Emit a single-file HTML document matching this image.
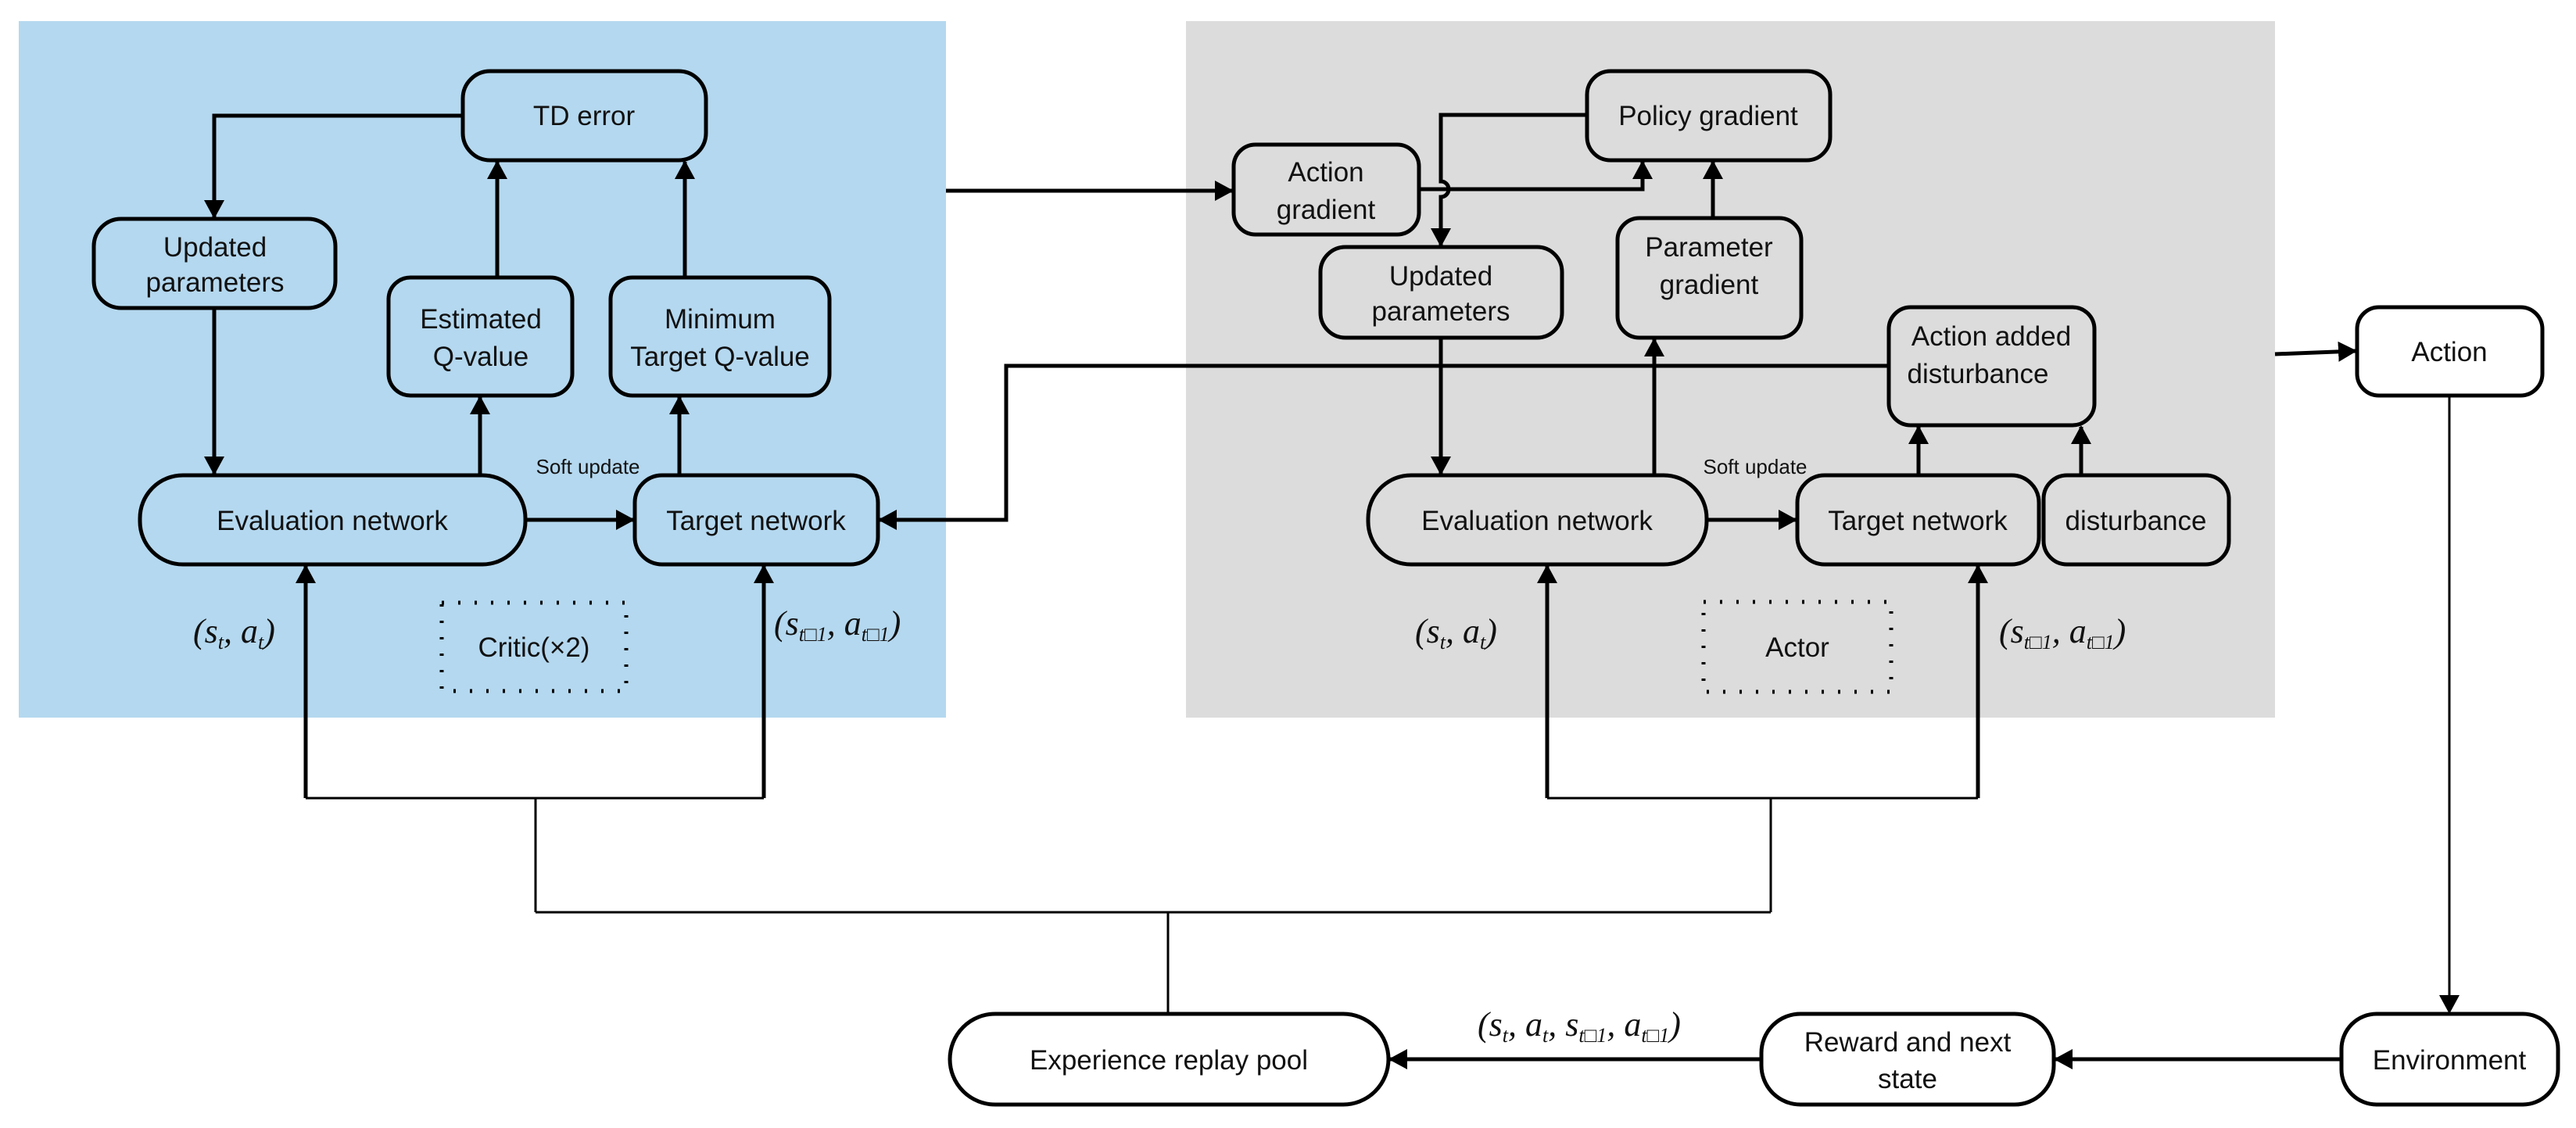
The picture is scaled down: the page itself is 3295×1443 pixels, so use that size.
<!DOCTYPE html>
<html><head><meta charset="utf-8"><style>
html,body{margin:0;padding:0;background:#fff;}
svg{display:block;}
text{font-family:"Liberation Sans",sans-serif;font-size:35px;fill:#111;text-anchor:middle;}
.m{font-family:"Liberation Serif",serif;font-style:italic;font-size:44px;text-anchor:start;}
.s{font-size:26px;}
</style></head><body>
<svg width="3295" height="1443" viewBox="0 0 3295 1443" xmlns="http://www.w3.org/2000/svg">
<defs>
<marker id="a" markerWidth="24" markerHeight="26" refX="22" refY="13" orient="auto" markerUnits="userSpaceOnUse">
<path d="M0,0 L24,13 L0,26 Z" fill="#000"/></marker>
</defs>
<rect x="24" y="27" width="1186" height="891" fill="#b4d8ef"/>
<rect x="1517" y="27" width="1393" height="891" fill="#dcdcdc"/>
<g fill="none" stroke="#000" stroke-width="5">
<!-- critic boxes -->
<rect x="592" y="91" width="311" height="114" rx="35"/>
<rect x="120" y="280" width="309" height="114" rx="35"/>
<rect x="497" y="355" width="235" height="151" rx="28"/>
<rect x="781" y="355" width="280" height="151" rx="28"/>
<rect x="179" y="608" width="493" height="114" rx="55"/>
<rect x="812" y="608" width="311" height="114" rx="35"/>
<rect x="565" y="771" width="236" height="113" stroke-dasharray="3 18" stroke-width="5"/>
<!-- actor boxes -->
<rect x="2030" y="91" width="311" height="114" rx="30"/>
<rect x="1578" y="185" width="237" height="115" rx="28"/>
<rect x="1689" y="316" width="309" height="116" rx="32"/>
<rect x="2069" y="279" width="235" height="153" rx="28"/>
<rect x="2416" y="393" width="263" height="151" rx="28"/>
<rect x="1750" y="608" width="433" height="114" rx="55"/>
<rect x="2299" y="608" width="309" height="114" rx="35"/>
<rect x="2614" y="608" width="237" height="114" rx="30"/>
<rect x="2179" y="770" width="240" height="115" stroke-dasharray="3 18"/>
<rect x="3015" y="393" width="237" height="113" rx="28" fill="#fff"/>
<!-- bottom boxes -->
<rect x="1215" y="1297" width="561" height="116" rx="58" fill="#fff"/>
<rect x="2253" y="1297" width="374" height="116" rx="50" fill="#fff"/>
<rect x="2995" y="1297" width="277" height="116" rx="45" fill="#fff"/>
<!-- critic connectors -->
<path d="M592,148 H274 V278" marker-end="url(#a)"/>
<path d="M274,394 V606" marker-end="url(#a)"/>
<path d="M614,608 V508" marker-end="url(#a)"/>
<path d="M636,355 V207" marker-end="url(#a)"/>
<path d="M869,608 V508" marker-end="url(#a)"/>
<path d="M876,355 V207" marker-end="url(#a)"/>
<path d="M672,665 H810" marker-end="url(#a)"/>
<path d="M391,1021 V724" marker-end="url(#a)"/>
<path d="M977,1021 V724" marker-end="url(#a)"/>
<!-- actor connectors -->
<path d="M1210,244 H1576" marker-end="url(#a)"/>
<path d="M2030,147 H1843 V232 a10,10 0 0 1 0,20 V314" marker-end="url(#a)"/>
<path d="M1815,242 H2101 V207" marker-end="url(#a)"/>
<path d="M2191,279 V207" marker-end="url(#a)"/>
<path d="M1843,432 V606" marker-end="url(#a)"/>
<path d="M2116,608 V434" marker-end="url(#a)"/>
<path d="M2183,665 H2297" marker-end="url(#a)"/>
<path d="M2454,608 V546" marker-end="url(#a)"/>
<path d="M2662,608 V546" marker-end="url(#a)"/>
<path d="M2416,468 H1287 V665 H1125" marker-end="url(#a)"/>
<path d="M1979,1021 V724" marker-end="url(#a)"/>
<path d="M2530,1021 V724" marker-end="url(#a)"/>
<path d="M2910,453 L3013,449" marker-end="url(#a)"/>
<!-- bottom -->
<path d="M2995,1355 H2629" marker-end="url(#a)"/>
<path d="M2253,1355 H1778" marker-end="url(#a)"/>
</g>
<g fill="none" stroke="#000" stroke-width="3">
<path d="M391,1021 H977"/>
<path d="M1979,1021 H2530"/>
<path d="M685,1021 V1167 M2265,1021 V1167 M685,1167 H2265 M1494,1167 V1297"/>
<path d="M3133,506 V1295" marker-end="url(#a)"/>
</g>
<!-- labels -->
<text x="747" y="160">TD error</text>
<text x="275" y="328">Updated</text>
<text x="275" y="373">parameters</text>
<text x="615" y="420">Estimated</text>
<text x="615" y="468">Q-value</text>
<text x="921" y="420">Minimum</text>
<text x="921" y="468">Target Q-value</text>
<text x="425" y="678">Evaluation network</text>
<text x="967" y="678">Target network</text>
<text class="s" x="752" y="606">Soft update</text>
<text x="683" y="840">Critic(×2)</text>
<text class="m" x="247" y="822">(<tspan>s</tspan><tspan class="s" dy="8">t</tspan><tspan dy="-8">, a</tspan><tspan class="s" dy="8">t</tspan><tspan dy="-8">)</tspan></text>
<text class="m" x="990" y="812">(<tspan>s</tspan><tspan class="s" dy="8">t□1</tspan><tspan dy="-8">, a</tspan><tspan class="s" dy="8">t□1</tspan><tspan dy="-8">)</tspan></text>

<text x="2185" y="160">Policy gradient</text>
<text x="1696" y="232">Action</text>
<text x="1696" y="280">gradient</text>
<text x="1843" y="365">Updated</text>
<text x="1843" y="410">parameters</text>
<text x="2186" y="328">Parameter</text>
<text x="2186" y="376">gradient</text>
<text x="2547" y="442">Action added</text>
<text x="2530" y="490">disturbance</text>
<text x="1966" y="678">Evaluation network</text>
<text x="2453" y="678">Target network</text>
<text x="2732" y="678">disturbance</text>
<text class="s" x="2245" y="606">Soft update</text>
<text x="2299" y="840">Actor</text>
<text class="m" x="1810" y="822">(<tspan>s</tspan><tspan class="s" dy="8">t</tspan><tspan dy="-8">, a</tspan><tspan class="s" dy="8">t</tspan><tspan dy="-8">)</tspan></text>
<text class="m" x="2557" y="822">(<tspan>s</tspan><tspan class="s" dy="8">t□1</tspan><tspan dy="-8">, a</tspan><tspan class="s" dy="8">t□1</tspan><tspan dy="-8">)</tspan></text>
<text x="3133" y="462">Action</text>

<text x="1495" y="1368">Experience replay pool</text>
<text x="2440" y="1345">Reward and next</text>
<text x="2440" y="1392">state</text>
<text x="3133" y="1368">Environment</text>
<text class="m" x="1890" y="1325">(<tspan>s</tspan><tspan class="s" dy="8">t</tspan><tspan dy="-8">, a</tspan><tspan class="s" dy="8">t</tspan><tspan dy="-8">, s</tspan><tspan class="s" dy="8">t□1</tspan><tspan dy="-8">, a</tspan><tspan class="s" dy="8">t□1</tspan><tspan dy="-8">)</tspan></text>
</svg>
</body></html>
